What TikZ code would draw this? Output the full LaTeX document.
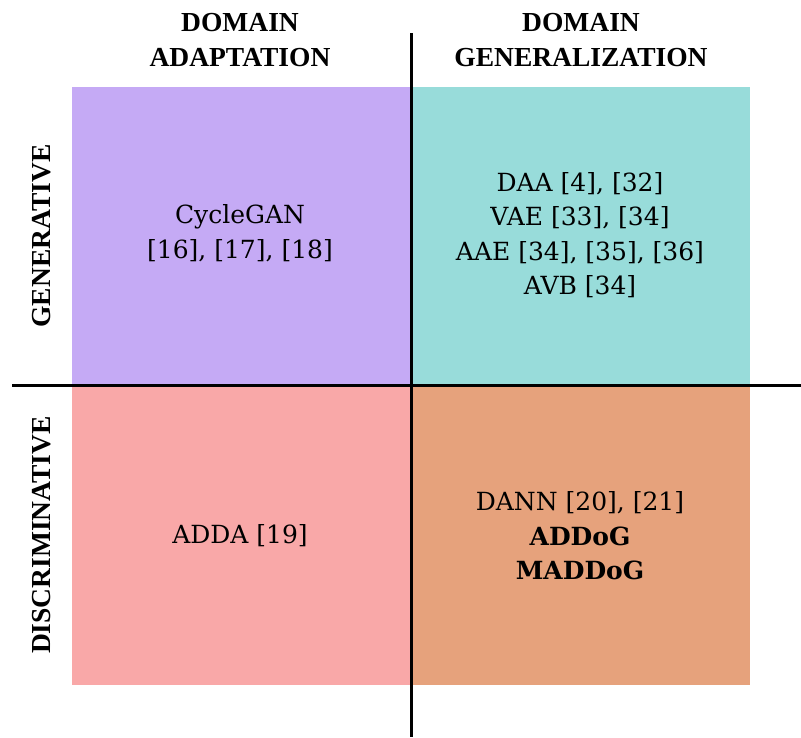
\documentclass[tikz,border=0pt]{standalone}
\usepackage{fontspec}
\setmainfont{DejaVu Serif}
\newfontfamily\headfont{Liberation Serif}
\definecolor{qpurple}{HTML}{C5AAF5}
\definecolor{qteal}{HTML}{98DCDA}
\definecolor{qpink}{HTML}{F9A8A8}
\definecolor{qorange}{HTML}{E6A27C}
\begin{document}
\begin{tikzpicture}[x=1pt,y=-1pt,
  quad/.style={draw=none,minimum width=339pt,minimum height=299pt,inner sep=0pt,anchor=north west},
  body/.style={font=\fontsize{25}{34.5}\selectfont,align=center},
  head/.style={font=\headfont\bfseries\fontsize{27.5}{35}\selectfont,align=center},
  axis/.style={line width=3pt}]
\useasboundingbox (0,0) rectangle (801,737);
\node[quad,fill=qpurple] (ga) at (72,87) {};
\node[quad,fill=qteal] (gg) at (411,87) {};
\node[quad,fill=qpink] (da) at (72,386) {};
\node[quad,fill=qorange] (dg) at (411,386) {};
\coordinate (vt) at (411,33);
\coordinate (vb) at (411,737);
\coordinate (hl) at (12,385);
\coordinate (hr) at (801,385);
\draw[axis] (vt) -- (vb);
\draw[axis] (hl) -- (hr);
\node[head] (h1) at (240,40) {DOMAIN\\ADAPTATION};
\node[head] (h2) at (581,40) {DOMAIN\\GENERALIZATION};
\node[head,rotate=90] (s1) at (42,236) {GENERATIVE};
\node[head,rotate=90] (s2) at (42,535) {DISCRIMINATIVE};
\node[body] (t1) at (240,233) {CycleGAN\\{}[16], [17], [18]};
\node[body] (t2) at (580,235) {DAA [4], [32]\\VAE [33], [34]\\AAE [34], [35], [36]\\AVB [34]};
\node[body] (t3) at (240,536) {ADDA [19]};
\node[body] (t4) at (580,536) {DANN [20], [21]\\\textbf{ADDoG}\\\textbf{MADDoG}};
\end{tikzpicture}
\end{document}
